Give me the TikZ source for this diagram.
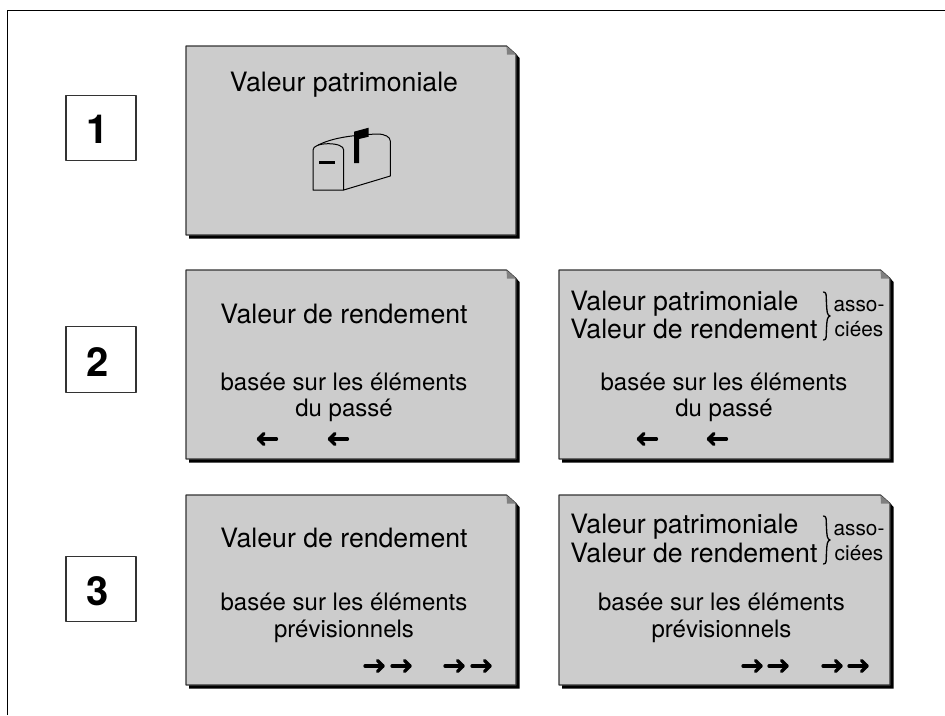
\documentclass[tikz,border=0pt]{standalone}
\usepackage{fontspec}
\setmainfont{TeX Gyre Heros}
\definecolor{notegray}{rgb}{0.8,0.8,0.8}
\definecolor{foldgray}{rgb}{0.5,0.5,0.5}
\definecolor{edgegray}{rgb}{0.2,0.2,0.2}
\tikzset{
	titletext/.style={anchor=base,inner sep=0pt,font=\fontsize{20}{24}\selectfont},
	bodytext/.style={anchor=base,inner sep=0pt,font=\fontsize{18}{22}\selectfont},
	smalltext/.style={anchor=base,inner sep=0pt,font=\fontsize{15.6}{19}\selectfont},
	numbox/.style={draw=edgegray,line width=0.9pt,fill=white,minimum width=52.5pt,minimum height=49pt,inner sep=0pt},
	numtext/.style={anchor=base,inner sep=0pt,font=\fontsize{30}{36}\bfseries\selectfont},
	arrowmark/.pic={
		\draw [line width=2.5pt] (0,0) -- (18,0);
		\draw [line width=2.5pt] (12.5,-5.5) -- (18,0) -- (12.5,5.5);
	}
}
\begin{document}
\begin{tikzpicture}[x=0.75pt,y=-0.75pt,line cap=round,line join=round]
	\useasboundingbox (0,0) rectangle (945,715);
	% outer frame
	\draw [line width=0.9pt,line cap=butt] (7.5,715) -- (7.5,10.5) -- (945,10.5);
	% the five notes: shadow, sheet, folded corner
	\foreach \l/\t/\r/\b in {186/46/516/235,186/270/516/459,559/270/890/459,186/495/516/685,559/495/890/685} {
		\fill [black] (\l+3,\b) -- (\l+3,\b+3.5) -- (\r+3.5,\b+3.5) -- (\r+3.5,\t+12) -- (\r,\t+8) -- cycle;
		\filldraw [fill=notegray,draw=edgegray,line width=0.9pt] (\l,\t) -- (\r-9.5,\t) -- (\r,\t+8.5) -- (\r,\b) -- (\l,\b) -- cycle;
		\fill [foldgray] (\r-9.5,\t) -- (\r,\t+8.5) -- (\r-9,\t+8.5) -- cycle;
	}
	% numbers
	\node [numbox] (box1) at (101,128) {};
	\node [numbox] (box2) at (101,359.5) {};
	\node [numbox] (box3) at (101,589) {};
	\node [numtext] (num1) at (97.5,143.5) {1};
	\node [numtext] (num2) at (97.5,376.5) {2};
	\node [numtext] (num3) at (97.5,605.5) {3};
	% top note
	\node [titletext] (patrimoine) at (344,91) {Valeur patrimoniale};
	\filldraw [fill=notegray,line width=0.75pt] (313,190) -- (313,150) .. controls (313,146) and (320,143.7) .. (328.3,143.7) .. controls (337,143.7) and (343.7,146) .. (343.7,150) -- (343.7,190) -- cycle;
	\draw [line width=0.75pt] (318.3,145) .. controls (332,138) and (352,135) .. (377.3,134) .. controls (385,134) and (390.3,137) .. (390.3,141) -- (390.3,176) -- (343.7,190);
	\fill (354,131.7) -- (368.7,127.7) -- (368.7,136.7) -- (359,139) -- (359,163) -- (354,163) -- cycle;
	\draw [line width=1.9pt,line cap=butt] (319,162.3) -- (335,162.3);
	% second row
	\node [titletext] (rendement2) at (344,323) {Valeur de rendement};
	\node [bodytext] (base2) at (344,390) {basée sur les éléments};
	\node [bodytext] (passe2) at (344,416) {du passé};
	\node [titletext,anchor=base west] (patrimoine2b) at (570,310) {Valeur patrimoniale};
	\node [titletext,anchor=base west] (rendement2b) at (570,338) {Valeur de rendement};
	\node [smalltext] (asso2) at (859,311) {asso-};
	\node [smalltext] (ciees2) at (859,336) {ciées};
	\node [bodytext] (base2b) at (724,390) {basée sur les éléments};
	\node [bodytext] (passe2b) at (724,416) {du passé};
	% third row
	\node [titletext] (rendement3) at (344,547) {Valeur de rendement};
	\node [bodytext] (base3) at (344,610) {basée sur les éléments};
	\node [bodytext] (prev3) at (344,637) {prévisionnels};
	\node [titletext,anchor=base west] (patrimoine3b) at (570,533) {Valeur patrimoniale};
	\node [titletext,anchor=base west] (rendement3b) at (570,562) {Valeur de rendement};
	\node [smalltext] (asso3) at (859,535) {asso-};
	\node [smalltext] (ciees3) at (859,560) {ciées};
	\node [bodytext] (base3b) at (721.5,610) {basée sur les éléments};
	\node [bodytext] (prev3b) at (721.5,637) {prévisionnels};
	% braces
	\foreach \y in {292,516} {
		\draw [line width=1pt] (823.5,\y) .. controls (827,\y) and (826,\y+4) .. (826.5,\y+12) .. controls (827,\y+20) and (827,\y+23) .. (830,\y+24) .. controls (827,\y+25) and (827,\y+28) .. (826.5,\y+36) .. controls (826,\y+44) and (827,\y+48) .. (823.5,\y+48);
	}
	% arrows
	\foreach \xa in {277,348,657,727}
		\pic [xscale=-1] at (\xa-0.5,439) {arrowmark};
	\foreach \xa in {364,391,444,471,742,768,822,848}
		\pic at (\xa+1,666) {arrowmark};
\end{tikzpicture}
\end{document}
